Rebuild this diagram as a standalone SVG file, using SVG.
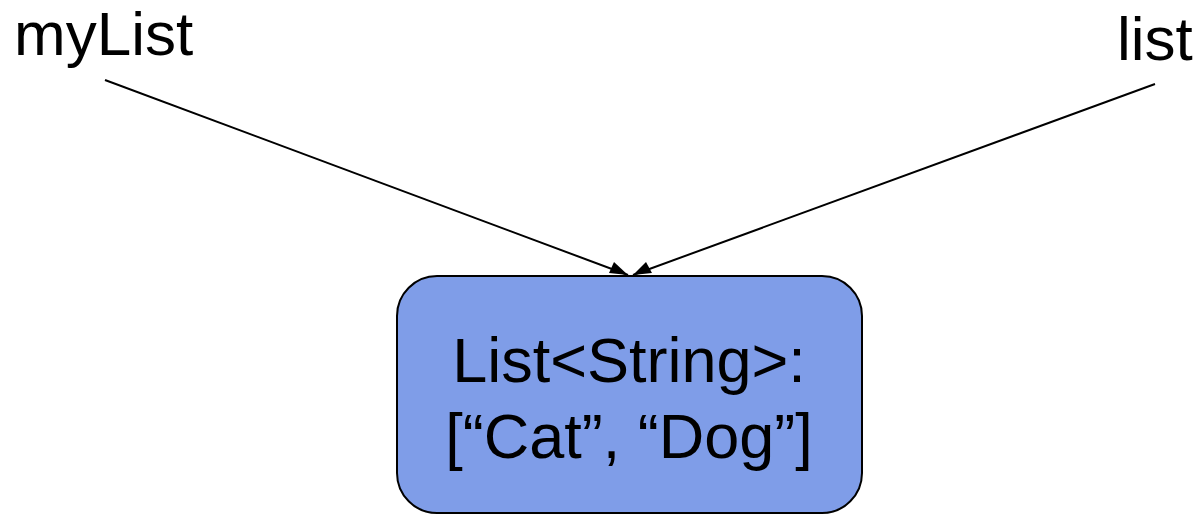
<svg xmlns="http://www.w3.org/2000/svg" width="1200" height="515" viewBox="0 0 1200 515">
  <style>
    .label { font-family: "Liberation Sans", Arial, sans-serif; fill: #000; }
    .ref { stroke: #000; stroke-width: 2; fill: none; }
    .box { fill: #7f9de8; stroke: #000; stroke-width: 2; }
  </style>
  <defs>
    <marker id="arrow" viewBox="0 0 10 10" refX="10" refY="5" markerWidth="8" markerHeight="8" markerUnits="userSpaceOnUse" orient="auto" overflow="visible">
      <path d="M0,0 L10,5 L0,10 z" fill="#000" transform="scale(1.6)"/>
    </marker>
  </defs>

  <g id="connectors">
    <line class="ref" x1="105" y1="80" x2="628" y2="275"/>
    <path d="M628,275 L609,273 L614,262 z" fill="#000"/>
    <line class="ref" x1="1155" y1="84" x2="633" y2="275"/>
    <path d="M633,275 L646,262 L652,273 z" fill="#000"/>
  </g>

  <g id="var-myList">
    <text class="label" x="14" y="55" font-size="62">myList</text>
  </g>

  <g id="var-list">
    <text class="label" x="1117" y="60" font-size="62">list</text>
  </g>

  <g id="list-object">
    <rect class="box" x="397" y="276" width="465" height="237" rx="40" ry="40"/>
    <text class="label" x="629" y="382" font-size="63" text-anchor="middle">List&lt;String&gt;:</text>
    <text class="label" x="629" y="458" font-size="63" text-anchor="middle">[“Cat”, “Dog”]</text>
  </g>
</svg>
